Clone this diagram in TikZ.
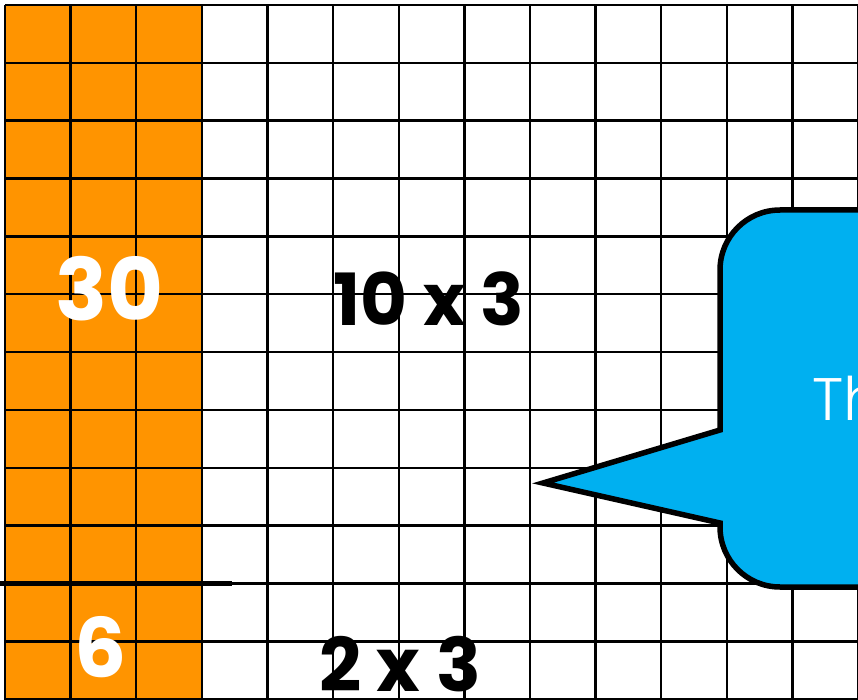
\documentclass[tikz,border=0pt]{standalone}
\usepackage{fontspec}
\setmainfont{Poppins}
\newfontfamily\lightfont{Poppins Light}
\definecolor{gridorange}{RGB}{255,148,0}
\definecolor{calloutblue}{RGB}{0,176,240}
\begin{document}
\begin{tikzpicture}[x=1pt,y=-1pt,
  gridline/.style={line width=2.4pt,black},
  bigwhite/.style={inner sep=0pt,text=white,font=\fontsize{86}{86}\selectfont\bfseries},
  bigblack/.style={inner sep=0pt,text=black,font=\fontsize{72}{72}\selectfont\bfseries},
  calloutshape/.style={line width=5.5pt,draw=black,fill=calloutblue,line join=miter}]
\useasboundingbox (0,0) rectangle (858,700);
\clip (0,0) rectangle (858,700);
\fill[white] (0,0) rectangle (858,700);
\fill[gridorange] (5,5) rectangle (202,702);
\foreach \i in {0,...,13} \draw[gridline] ({5+65.62*\i},5) -- ({5+65.62*\i},704);
\foreach \j in {0,...,12} \draw[gridline] (5,{5+57.85*\j}) -- (862,{5+57.85*\j});
\draw[line width=5pt] (0,583.5) -- (232,583.5);
\draw[calloutshape] (543,483) -- (720,430) -- (720,270)
  arc[start angle=180,end angle=270,radius=60] -- (900,210) -- (900,587) -- (780,587)
  arc[start angle=90,end angle=180,radius=60] -- (720,523) -- cycle;
\node[bigwhite] (thirty) at (110,289) {30};
\node[bigwhite,font=\fontsize{82}{82}\selectfont\bfseries] (six) at (101,647) {6};
\node[bigblack] (tenx) at (429,299) {10 x 3};
\node[bigblack,font=\fontsize{74}{74}\selectfont\bfseries] (twox) at (400,664) {2 x 3};
\node[anchor=base west,inner sep=0pt,text=white,font=\fontsize{60}{60}\selectfont\lightfont] (callouttext) at (812,420) {Th};
\end{tikzpicture}
\end{document}
